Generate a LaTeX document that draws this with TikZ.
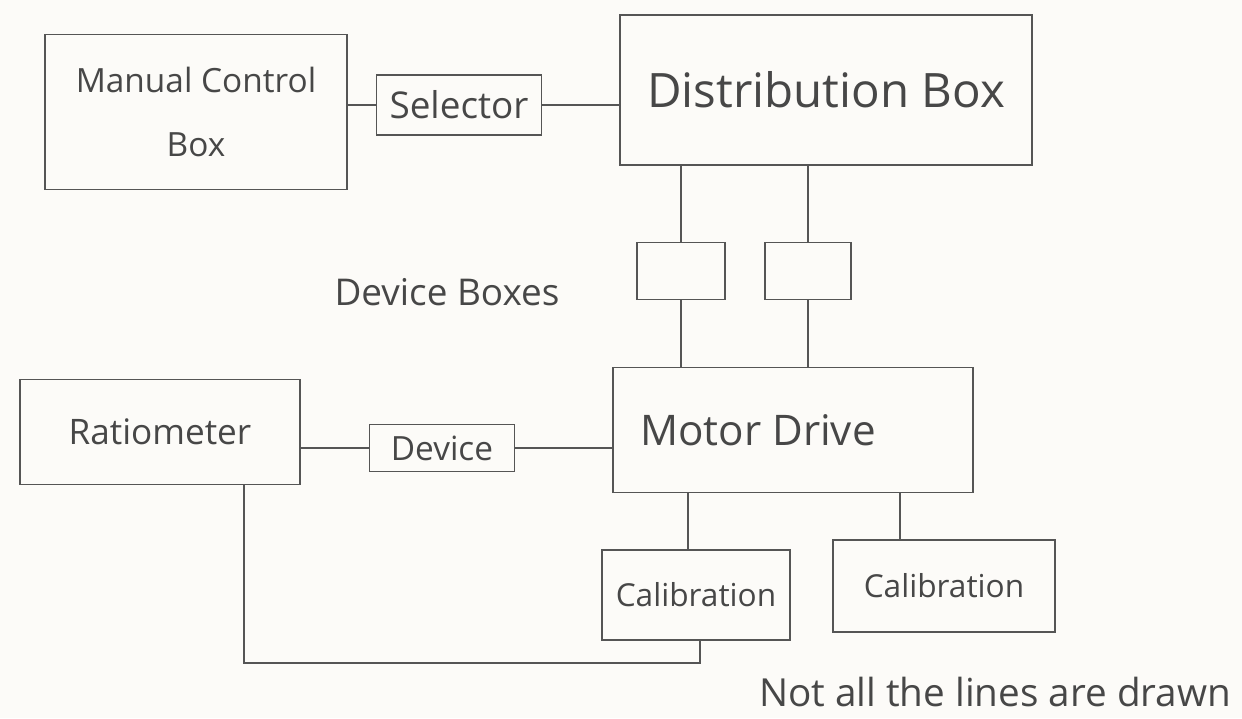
\documentclass[tikz,border=0pt]{standalone}
\usepackage{fontspec}
\setmainfont{Open Sans}
\definecolor{pencil}{HTML}{555555}
\definecolor{ink}{HTML}{474747}
\definecolor{paper}{HTML}{FCFBF8}
\begin{document}
\begin{tikzpicture}[x=0.02cm,y=-0.02cm,
  box/.style={draw=pencil,line width=1.1pt,rectangle,inner sep=0pt,text=ink,align=center},
  wire/.style={draw=pencil,line width=1.1pt},
  lbl/.style={text=ink,inner sep=0pt}]
\fill[paper] (0,0) rectangle (1242,718);
\useasboundingbox (0,0) rectangle (1242,718);
\node[box,minimum width=6.04cm,minimum height=3.1cm,font=\fontsize{19}{36}\selectfont] (man) at (196,112) {Manual Control\\Box};
\node[box,minimum width=3.3cm,minimum height=1.2cm,font=\fontsize{21}{24}\selectfont] (sel) at (459,105) {Selector};
\node[box,minimum width=8.26cm,minimum height=3cm,font=\fontsize{27}{31}\selectfont] (dist) at (826,90) {Distribution Box};
\node[box,minimum width=1.76cm,minimum height=1.14cm] (dl) at (681,271) {};
\node[box,minimum width=1.72cm,minimum height=1.14cm] (dr) at (808,271) {};
\node[box,minimum width=7.2cm,minimum height=2.5cm,font=\fontsize{24}{28}\selectfont] (mot) at (793,430) {Motor Drive\hspace*{1.4cm}};
\node[box,minimum width=5.6cm,minimum height=2.1cm,font=\fontsize{20}{23}\selectfont] (rat) at (160,432) {Ratiometer};
\node[box,minimum width=2.9cm,minimum height=0.94cm,font=\fontsize{19}{22}\selectfont] (dev) at (442,448) {Device};
\node[box,minimum width=3.76cm,minimum height=1.8cm,font=\fontsize{18}{21}\selectfont] (cal1) at (696,595) {Calibration};
\node[box,minimum width=4.44cm,minimum height=1.84cm,font=\fontsize{18}{21}\selectfont] (cal2) at (944,586) {Calibration};
\node[lbl,font=\fontsize{21}{24}\selectfont] (devb) at (447,292) {Device Boxes};
\node[lbl,font=\fontsize{22}{25}\selectfont] (note) at (995,692) {Not all the lines are drawn};
% connectors
\draw[wire] (sel.west -| man.east) -- (sel.west);
\draw[wire] (sel.east) -- (sel.east -| dist.west);
\draw[wire] (dl.north |- dist.south) -- (dl.north);
\draw[wire] (dr.north |- dist.south) -- (dr.north);
\draw[wire] (dl.south) -- (dl.south |- mot.north);
\draw[wire] (dr.south) -- (dr.south |- mot.north);
\draw[wire] (dev.west -| rat.east) -- (dev.west);
\draw[wire] (dev.east) -- (dev.east -| mot.west);
\draw[wire] ([xshift=-0.16cm]cal1.north |- mot.south) -- ([xshift=-0.16cm]cal1.north);
\draw[wire] ([xshift=-0.88cm]cal2.north |- mot.south) -- ([xshift=-0.88cm]cal2.north);
\draw[wire] ([xshift=1.68cm]rat.south) |- ([xshift=0.08cm,yshift=-0.45cm]cal1.south) -- ([xshift=0.08cm]cal1.south);
\end{tikzpicture}
\end{document}
